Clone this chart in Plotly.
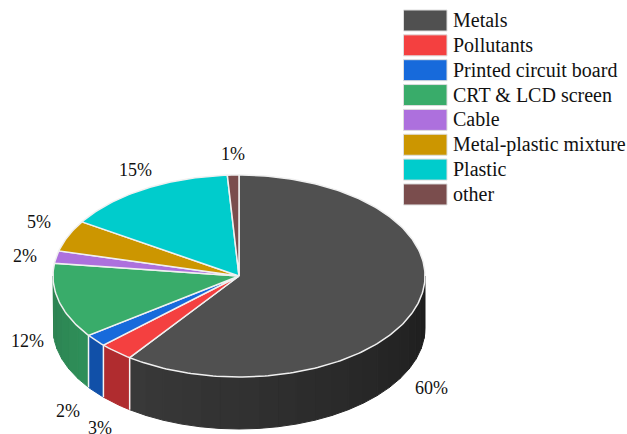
import math
import plotly.graph_objects as go

categories = ["Metals", "Pollutants", "Printed circuit board", "CRT & LCD screen",
              "Cable", "Metal-plastic mixture", "Plastic", "other"]
values = [60, 3, 2, 12, 2, 5, 15, 1]
top_colors = ["#505050", "#f44040", "#176adb", "#39ac6a", "#ad70dd", "#cc9600", "#00cccc", "#7a4d4d"]
# wall colours, (near the right-hand end, near the front-left end of the slice)
wall_colors = [((0x1d, 0x1d, 0x1d), (0x3a, 0x3a, 0x3a)), ((0xb0, 0x2c, 0x2f), (0xb0, 0x2c, 0x2f)),
               ((0x11, 0x50, 0xa8), (0x11, 0x50, 0xa8)), ((0x2f, 0x90, 0x5a), (0x2c, 0x80, 0x50)),
               None, None, None, None]

CX, CY, RX, RY, DEPTH = 239.0, 276.0, 186.0, 101.0, 52.0
FONT = "Liberation Serif"
TXT = "#111111"
label_pos = [(431, 388), (100, 428), (68, 411), (27, 341), (25, 256), (39, 222), (135, 170), (233, 154)]

def pt(theta_deg, dy=0.0):
    t = math.radians(theta_deg)
    return CX + RX * math.sin(t), CY - RY * math.cos(t) + dy

def arc(a, b, dy=0.0, step=1.0):
    n = max(2, int(abs(b - a) / step) + 1)
    return [pt(a + (b - a) * i / (n - 1), dy) for i in range(n)]

def poly(points, fill, line=None, width=1.0):
    xs = [p[0] for p in points] + [points[0][0]]
    ys = [p[1] for p in points] + [points[0][1]]
    return go.Scatter(x=xs, y=ys, mode="lines", fill="toself", fillcolor=fill,
                      line=dict(color=line or fill, width=width),
                      hoverinfo="skip", showlegend=False)

fig = go.Figure()

total = sum(values)
bounds = [0.0]
for v in values:
    bounds.append(bounds[-1] + 360.0 * v / total)

# side walls (front half only)
for i, cols in enumerate(wall_colors):
    if cols is None:
        continue
    a = max(bounds[i], 90.0)
    b = min(bounds[i + 1], 270.0)
    if b <= a:
        continue
    n = max(1, int((b - a) / 6))
    for k in range(n):
        a0 = a + (b - a) * k / n
        a1 = a + (b - a) * (k + 1) / n
        f = (k + 0.5) / n
        col = tuple(int(cols[0][j] + (cols[1][j] - cols[0][j]) * f) for j in range(3))
        fig.add_trace(poly(arc(a0, a1) + arc(a1, a0, DEPTH), "rgb(%d,%d,%d)" % col))

# white dividers on the walls
for ang in bounds[1:4]:
    p, q = pt(ang), pt(ang, DEPTH)
    fig.add_trace(go.Scatter(x=[p[0], q[0]], y=[p[1], q[1]], mode="lines",
                             line=dict(color="#f4f4f4", width=1.5), hoverinfo="skip", showlegend=False))

# top face
for i, v in enumerate(values):
    pts = [(CX, CY)] + arc(bounds[i], bounds[i + 1])
    fig.add_trace(poly(pts, top_colors[i], "#f0f0f0", 1.5))

annotations = []
shapes = []
for i, name in enumerate(categories):
    y0 = 10 + 24.85 * i
    shapes.append(dict(type="rect", xref="x", yref="y", x0=403.5, x1=447, y0=y0, y1=y0 + 21,
                       fillcolor=top_colors[i], line=dict(color="#dddddd", width=1), layer="above"))
    annotations.append(dict(x=451, y=y0 + 10, xref="x", yref="y", text=name.replace("&", "&amp;"),
                            showarrow=False, xanchor="left", yanchor="middle",
                            font=dict(family=FONT, size=20, color=TXT)))
    lx, ly = label_pos[i]
    annotations.append(dict(x=lx, y=ly, xref="x", yref="y", text="%d%%" % values[i],
                            showarrow=False, xanchor="center", yanchor="middle",
                            font=dict(family=FONT, size=18, color=TXT)))

fig.update_layout(width=627, height=434, autosize=False,
                  margin=dict(l=0, r=0, t=0, b=0, pad=0),
                  paper_bgcolor="white", plot_bgcolor="white",
                  xaxis=dict(range=[0, 627], visible=False, fixedrange=True),
                  yaxis=dict(range=[434, 0], visible=False, fixedrange=True),
                  shapes=shapes, annotations=annotations, showlegend=False)

fig.write_html("out.html", config=dict(displayModeBar=False),
               post_script="document.body.style.margin='0';document.documentElement.style.overflow='hidden';")
